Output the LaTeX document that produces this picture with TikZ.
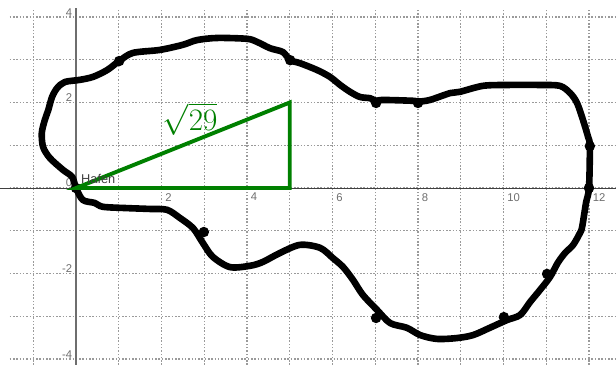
\documentclass[tikz,border=0pt]{standalone}
\usepackage{fontspec}
\setsansfont{Liberation Sans}
\usepackage{tikz}
\usetikzlibrary{positioning}
\definecolor{hafen}{HTML}{008000}
\definecolor{gridgray}{HTML}{9A9A9A}
\definecolor{axisgray}{HTML}{6E6E6E}

\begin{document}
\begin{tikzpicture}[font=\sffamily\small,
  gridline/.style={gridgray, line width=0.7pt, dash pattern=on 1pt off 1.2pt},
  ticklabel/.style={text=axisgray, font=\sffamily\fontsize{7.5}{9}\selectfont, inner sep=1pt},
  route/.style={line width=4.4pt, line cap=round, line join=round},
  halt/.style={circle, fill=black, inner sep=0pt, minimum size=7pt},
  dreieck/.style={hafen, line width=2.6pt, line join=miter}]
  \useasboundingbox (-1.778,-4.140) rectangle (12.632,4.398);
  % Gitter und Achsen
  \foreach \x in {-1,...,12} \draw[gridline] (\x,-4.14) -- (\x,4.2);
  \foreach \y in {-4,...,4} \draw[gridline] (-1.55,\y) -- (12.632,\y);
  \draw[axisgray, line width=0.9pt] (0,-4.14) -- (0,4.21);
  \draw[black!75, line width=0.6pt] (-1.778,0) -- (12.632,0);
  \foreach \x in {2,4,...,12}
    \node[ticklabel, anchor=north west] (xl\x) at (\x+0.05,-0.08) {\x};
  \foreach \y in {-4,-2,2,4}
    \node[ticklabel, anchor=south east] (yl\y) at (-0.05,\y-0.02) {\y};
  \node[ticklabel, anchor=south east] (yl0) at (-0.05,-0.02) {0};
  % Route
  \draw[route] plot[smooth cycle, tension=0.5] coordinates {
    (0,0) (-0.09,0.26) (-0.30,0.42) (-0.61,0.70) (-0.77,0.96) (-0.80,1.29)
    (-0.73,1.59) (-0.65,1.82) (-0.56,2.13) (-0.44,2.34) (-0.26,2.48)
    (0.09,2.53) (0.40,2.60) (0.73,2.76) (1.01,2.97) (1.33,3.16) (1.96,3.23)
    (2.50,3.35) (2.83,3.46) (3.30,3.51) (4.00,3.49) (4.23,3.42) (4.54,3.27)
    (4.84,3.18) (5.01,2.99) (5.24,2.92) (5.64,2.76) (5.94,2.60) (6.18,2.41)
    (6.41,2.25) (6.64,2.13) (6.88,2.10) (7.02,2.04) (7.18,2.06) (7.88,2.04)
    (8.00,2.02) (8.28,2.06) (8.75,2.22) (8.98,2.25) (9.52,2.39) (10.08,2.41)
    (10.85,2.41) (11.32,2.39) (11.56,2.22) (11.72,1.99) (11.86,1.59)
    (11.98,1.19) (12.02,0.98) (12.0,0) (11.93,-0.35) (11.84,-0.91)
    (11.79,-1.05) (11.63,-1.33) (11.44,-1.52) (11.27,-1.75) (11.09,-2.08)
    (10.85,-2.39) (10.62,-2.67) (10.39,-2.97) (10.08,-3.09) (9.68,-3.27)
    (9.29,-3.44) (8.91,-3.51) (8.44,-3.53) (8.05,-3.44) (7.74,-3.27)
    (7.35,-3.16) (7.04,-2.85) (6.71,-2.50) (6.48,-2.15) (6.25,-1.85)
    (6.01,-1.64) (5.71,-1.40) (5.24,-1.33) (4.77,-1.52) (4.37,-1.73)
    (4.07,-1.82) (3.60,-1.85) (3.20,-1.61) (2.97,-1.29) (2.74,-0.94)
    (2.43,-0.70) (2.13,-0.51) (1.73,-0.49) (1.19,-0.47) (0.63,-0.44)
    (0.44,-0.35) (0.16,-0.28)};
  % Haltepunkte
  \foreach \px/\py [count=\i] in {0/0, 1.01/2.97, 5.01/2.99, 7.02/1.99,
      8.00/1.99, 12.02/0.98, 12.0/0, 11.02/-2.01, 10.01/-3.02, 7.02/-3.04,
      2.99/-1.03}
    \node[halt] (h\i) at (\px,\py) {};
  % Dreieck
  \coordinate (O) at (0,0);
  \coordinate (A) at (5,2);
  \coordinate (B) at (5,0);
  \draw[dreieck] (O) -- (A) -- (B) -- cycle;
  \node[text=hafen, font=\fontsize{20}{24}\selectfont] (wurzel) at (2.67,1.62) {$\sqrt{29}$};
  \node[anchor=south west, text=black!75, font=\sffamily\fontsize{8.5}{10}\selectfont, inner sep=1pt] (hafen) at (0.08,0.05) {Hafen};
\end{tikzpicture}
\end{document}
